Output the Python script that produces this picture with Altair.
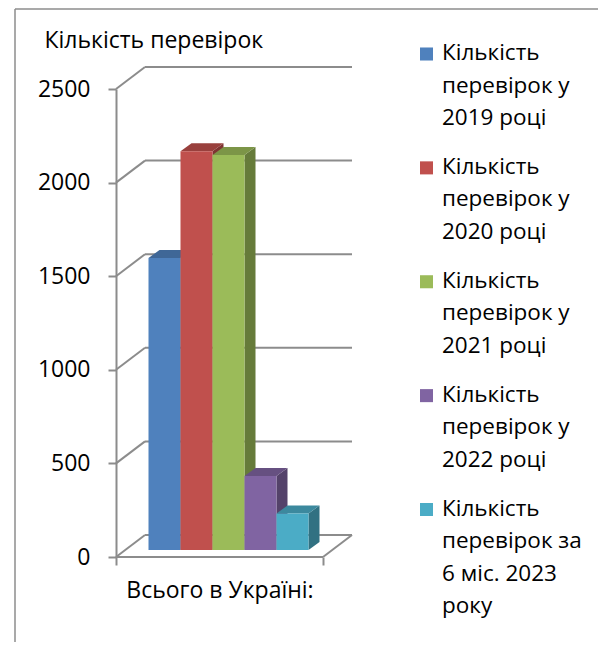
import altair as alt
import pandas as pd

# ---------------- data ----------------
series_labels = [
    "Кількість\nперевірок у\n2019 році",
    "Кількість\nперевірок у\n2020 році",
    "Кількість\nперевірок у\n2021 році",
    "Кількість\nперевірок у\n2022 році",
    "Кількість\nперевірок за\n6 міс. 2023\nроку",
]
values = [1560, 2130, 2110, 395, 195]
front_colors = ["#4F81BD", "#C0504D", "#9BBB59", "#8064A2", "#4BACC6"]
y_ticks = [0, 500, 1000, 1500, 2000, 2500]
category = "Всього в Україні:"
y_title = "Кількість перевірок"

# ---------------- geometry (layout) ----------------
FONT = "Open Sans"
GRID = "#8C8C8C"
H = 468
W = 240
YMAX = 2500
PX = H / YMAX                 # px per value unit
WALL_DX = 29                  # px (x units are px)
WALL_DY = 22 / PX             # value units
FLOOR_W = 207
BAR_SHIFT_X = 9
BAR_SHIFT_Y = 7 / PX
BAR_W = 32
BAR_DX = 11
BAR_DY = 8 / PX
GAP = (FLOOR_W - len(values) * BAR_W) / 2


def shade(hex_color, f):
    h = hex_color.lstrip("#")
    r, g, b = (int(h[i:i + 2], 16) for i in (0, 2, 4))
    return "#%02x%02x%02x" % (int(r * f), int(g * f), int(b * f))


fronts, sides, tops = [], [], []
for i, (v, c) in enumerate(zip(values, front_colors)):
    x0 = BAR_SHIFT_X + GAP + i * BAR_W
    x1 = x0 + BAR_W
    base = BAR_SHIFT_Y
    top = base + v
    fronts.append({"x0": x0, "x1": x1, "ylo": base, "yhi": top, "c": c, "k": i})
    sc = shade(c, 0.66)
    sides.append({"x": x1, "ylo": base, "yhi": top, "c": sc, "k": i})
    sides.append({"x": x1 + BAR_DX, "ylo": base + BAR_DY, "yhi": top + BAR_DY, "c": sc, "k": i})
    tc = shade(c, 0.80)
    tops.append({"y": top, "xl": x0, "xr": x1, "c": tc, "k": i})
    tops.append({"y": top + BAR_DY, "xl": x0 + BAR_DX, "xr": x1 + BAR_DX, "c": tc, "k": i})

fronts_df = pd.DataFrame(fronts)
sides_df = pd.DataFrame(sides)
tops_df = pd.DataFrame(tops)

grid_df = pd.DataFrame({
    "t": y_ticks,
    "tb": [t + WALL_DY for t in y_ticks],
    "xa": [0] * len(y_ticks),
    "xb": [WALL_DX] * len(y_ticks),
    "xe": [WALL_DX + FLOOR_W] * len(y_ticks),
})
floor_df = pd.DataFrame({
    "xa": [0, FLOOR_W], "xb": [FLOOR_W, FLOOR_W + WALL_DX],
    "ya": [0, 0], "yb": [0, WALL_DY],
})

xs = alt.Scale(domain=[0, W], nice=False, zero=False)
ys = alt.Scale(domain=[0, YMAX], nice=False, zero=False)

x_axis = alt.Axis(
    values=[0, FLOOR_W], labels=False, domain=False, grid=False,
    tickSize=8, tickColor=GRID, tickWidth=2,
    title=category, titleFont=FONT, titleFontSize=23, titleFontWeight="normal",
    titleColor="#000000", titleX=FLOOR_W / 2, titleY=33, titleAlign="center",
    titleBaseline="middle")
y_axis = alt.Axis(
    values=y_ticks, format="d", grid=False, domainColor=GRID, domainWidth=2,
    tickColor=GRID, tickWidth=2, tickSize=8, labelPadding=18,
    labelFont=FONT, labelFontSize=23, labelColor="#000000",
    title=y_title, titleAngle=0, titleAlign="left", titleBaseline="middle",
    titleX=-72, titleY=-49, titleFont=FONT, titleFontSize=23,
    titleFontWeight="normal", titleColor="#000000")


def X(f):
    return alt.X(f, scale=xs, axis=x_axis)


def Y(f):
    return alt.Y(f, scale=ys, axis=y_axis)


back_grid = alt.Chart(grid_df).mark_rule(color=GRID, strokeWidth=2).encode(
    x=X("xb:Q"), x2="xe:Q", y=Y("tb:Q"),
)
side_grid = alt.Chart(grid_df).mark_rule(color=GRID, strokeWidth=2).encode(
    x=X("xa:Q"), x2="xb:Q", y=Y("t:Q"), y2="tb:Q",
)
floor_edges = alt.Chart(floor_df).mark_rule(color=GRID, strokeWidth=2).encode(
    x=X("xa:Q"), x2="xb:Q", y=Y("ya:Q"), y2="yb:Q",
)
side_faces = alt.Chart(sides_df).mark_area(orient="vertical", opacity=1).encode(
    x=X("x:Q"), y=Y("ylo:Q"), y2="yhi:Q",
    color=alt.Color("c:N", scale=None), detail="k:N",
)
top_faces = alt.Chart(tops_df).mark_area(orient="horizontal", opacity=1).encode(
    y=Y("y:Q"), x=X("xl:Q"), x2="xr:Q",
    color=alt.Color("c:N", scale=None), detail="k:N",
)
front_faces = alt.Chart(fronts_df).mark_rect(opacity=1).encode(
    x=X("x0:Q"), x2="x1:Q", y=Y("ylo:Q"), y2="yhi:Q",
    color=alt.Color("c:N", scale=None),
)

one = pd.DataFrame({"d": [0]})
border_top = alt.Chart(one).mark_rule(color=GRID, strokeWidth=1.5).encode(
    x=alt.value(-101), x2=alt.value(482), y=alt.value(-80))
border_left = alt.Chart(one).mark_rule(color=GRID, strokeWidth=1.5).encode(
    x=alt.value(-101), y=alt.value(-80), y2=alt.value(553))

left = alt.layer(
    back_grid, side_grid, floor_edges, side_faces, top_faces, front_faces,
    border_top, border_left,
).properties(width=W, height=H)

legend_df = pd.DataFrame({
    "idx": list(range(len(series_labels))),
    "label": series_labels,
    "c": front_colors,
})
lys = alt.Scale(domain=[0, len(series_labels) - 1], range=[-35, 420.5])
leg_sq = alt.Chart(legend_df).mark_square(size=170, opacity=1).encode(
    x=alt.value(7.5),
    y=alt.Y("idx:Q", scale=lys, axis=None),
    color=alt.Color("c:N", scale=None),
)
leg_tx = alt.Chart(legend_df).mark_text(
    align="left", baseline="alphabetic", dy=6, lineBreak="\n", lineHeight=32.5,
    font=FONT, fontSize=22.5, color="#000000",
).encode(
    x=alt.value(23),
    y=alt.Y("idx:Q", scale=lys, axis=None),
    text="label:N",
)
legend = alt.layer(leg_sq, leg_tx).properties(width=160, height=H)

chart = alt.hconcat(left, legend, spacing=63, bounds="flush").properties(
    padding={"left": 6, "top": 0, "right": 0, "bottom": 0},
    background="white",
).configure_view(strokeWidth=0)

chart.save("out.html", embed_options={"renderer": "svg", "actions": False})
